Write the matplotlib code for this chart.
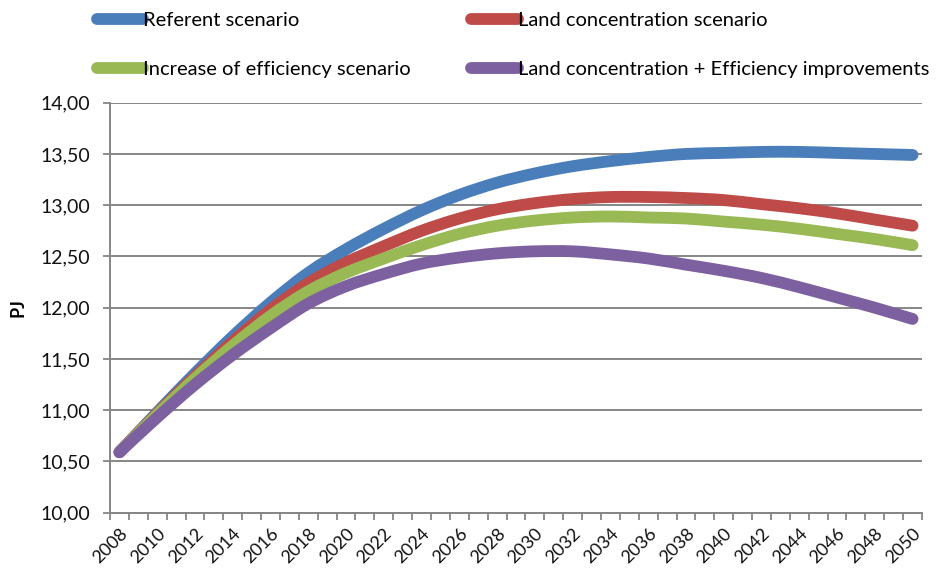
import numpy as np
import matplotlib
matplotlib.use("Agg")
import matplotlib.pyplot as plt
from matplotlib.path import Path
from matplotlib.patches import PathPatch
from matplotlib.lines import Line2D
from matplotlib.ticker import FuncFormatter, MultipleLocator

plt.rcParams['font.family'] = ['Lato', 'DejaVu Sans']

# annees (une valeur lue tous les 2 ans)
years = list(range(2008, 2051, 2))

referent = [10.59, 10.98, 11.36, 11.72, 12.05, 12.34, 12.57, 12.77, 12.95, 13.10, 13.22,
            13.31, 13.38, 13.43, 13.47, 13.50, 13.51, 13.52, 13.52, 13.51, 13.50, 13.49]
land_conc = [10.59, 10.97, 11.33, 11.67, 11.98, 12.24, 12.44, 12.60, 12.75, 12.87, 12.96,
             13.02, 13.06, 13.08, 13.08, 13.07, 13.05, 13.01, 12.97, 12.92, 12.86, 12.80]
efficiency = [10.59, 10.96, 11.31, 11.63, 11.92, 12.16, 12.34, 12.48, 12.61, 12.72, 12.80,
              12.85, 12.88, 12.89, 12.88, 12.87, 12.84, 12.81, 12.77, 12.72, 12.67, 12.61]
land_eff = [10.59, 10.93, 11.25, 11.54, 11.80, 12.04, 12.21, 12.33, 12.43, 12.49, 12.53,
            12.55, 12.55, 12.52, 12.48, 12.42, 12.36, 12.29, 12.20, 12.10, 12.00, 11.89]

labels = ["Referent scenario", "Land concentration scenario",
          "Increase of efficiency scenario", "Land concentration + Efficiency improvements"]
colors = ["#4A7EBB", "#BE4B48", "#98B954", "#7D60A0"]


def smooth_path(x, y):
    # courbe lissee facon Excel (Bezier cubique de type Catmull-Rom)
    p = np.column_stack([x, y]).astype(float)
    verts = [p[0]]
    codes = [Path.MOVETO]
    n = len(p)
    for i in range(n - 1):
        p0 = p[max(i - 1, 0)]
        p1, p2 = p[i], p[i + 1]
        p3 = p[min(i + 2, n - 1)]
        verts += [p1 + (p2 - p0) / 6, p2 - (p3 - p1) / 6, p2]
        codes += [Path.CURVE4] * 3
    return Path(verts, codes)


fig = plt.figure(figsize=(9.36, 5.71), dpi=100)
ax = fig.add_axes([110/936, 1 - 512.7/571, 812/936, 410/571])

series = [referent, land_conc, efficiency, land_eff]
handles = []
for s, lab, c in zip(series, labels, colors):
    ax.add_patch(PathPatch(smooth_path(years, s), facecolor='none', edgecolor=c,
                           lw=8.5, capstyle='round', joinstyle='round', zorder=3))
    handles.append(Line2D([], [], color=c, lw=8.5, solid_capstyle='round', label=lab))

# axes facon Excel
ax.set_xlim(2007.5, 2050.5)
ax.set_ylim(10, 14)
ax.yaxis.set_major_locator(MultipleLocator(0.5))
ax.yaxis.set_major_formatter(FuncFormatter(lambda v, p: f"{v:.2f}".replace('.', ',')))
ax.set_xticks(years)
ax.set_xticklabels([str(y) for y in years], rotation=45, ha='right',
                   rotation_mode='anchor', fontsize=13, color='#111111')
ax.set_xticks(np.arange(2007.5, 2051, 1.0), minor=True)
ax.tick_params(axis='x', which='major', length=0, pad=9)
ax.tick_params(axis='x', which='minor', length=5, width=1.3, color='#868686', direction='out')
ax.tick_params(axis='y', length=5, width=1.3, color='#868686', labelsize=14,
               labelcolor='#111111', pad=9)

ax.grid(axis='y', color='#868686', lw=1.4)
ax.set_axisbelow(True)
for sp in ['top', 'right']:
    ax.spines[sp].set_visible(False)
for sp in ['left', 'bottom']:
    ax.spines[sp].set_color('#868686')
    ax.spines[sp].set_linewidth(1.4)

ax.set_ylabel("PJ", fontsize=13, fontweight='bold', labelpad=10)

# ordre par colonnes pour avoir blue/red sur la 1ere ligne
order = [0, 2, 1, 3]
leg = fig.legend([handles[i] for i in order], [labels[i] for i in order],
                 loc='upper left', bbox_to_anchor=(97/936, 1 - 12/571), ncol=2,
                 frameon=False, fontsize=14.5, handlelength=2.3, handletextpad=0.0,
                 columnspacing=3.0, labelspacing=1.6, borderpad=0, borderaxespad=0)

fig.savefig("out.png", dpi=100)
